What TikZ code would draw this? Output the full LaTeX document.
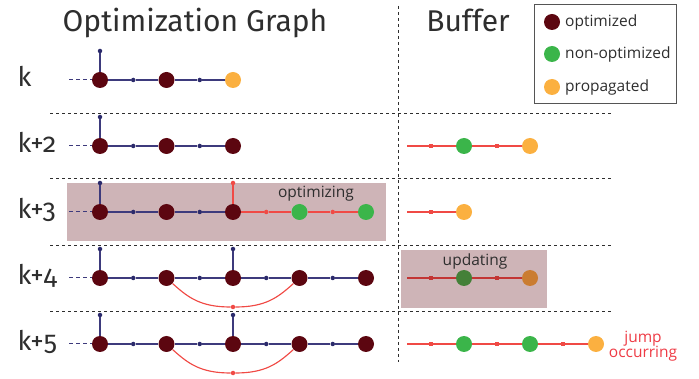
\documentclass[tikz,border=0pt]{standalone}
\usepackage{fontspec}
\setmainfont[Numbers=OldStyle]{Fira Sans}
\newfontfamily\legfont{Open Sans}
\usetikzlibrary{positioning}
\definecolor{optc}{HTML}{5C0610}
\definecolor{nonc}{HTML}{3BB54A}
\definecolor{propc}{HTML}{FBB040}
\definecolor{navy}{HTML}{2B2A6B}
\definecolor{navyl}{HTML}{3D3A7C}
\definecolor{redl}{HTML}{F04A45}
\definecolor{txt}{HTML}{2E2E2E}
\definecolor{legc}{HTML}{555555}
\definecolor{jumpc}{HTML}{EE3B45}

\begin{document}
\begin{tikzpicture}[x=1pt, y=-1pt,
  state/.style={circle, inner sep=0pt, minimum size=16pt},
  opt/.style={state, fill=optc},
  nonopt/.style={state, fill=nonc},
  prop/.style={state, fill=propc},
  fac/.style={circle, inner sep=0pt, minimum size=4.5pt, fill=navy},
  rdot/.style={circle, inner sep=0pt, minimum size=4.5pt, fill=redl},
  rfac/.style={rectangle, inner sep=0pt, minimum size=3.5pt, fill=redl},
  edge/.style={navyl, line width=1.15pt},
  redge/.style={redl, line width=1.15pt},
  lead/.style={edge, line width=1pt, dash pattern=on 4pt off 3pt},
  sep/.style={txt, line width=0.8pt, dash pattern=on 3pt off 3pt},
  shade/.style={fill=optc, fill opacity=0.3},
  rowlbl/.style={font=\fontsize{27}{30}\selectfont, text=txt, anchor=base west},
  head/.style={font=\fontsize{30}{34}\selectfont, text=txt, anchor=base},
  note/.style={font=\legfont\fontsize{15.5}{18}\selectfont, text=txt}]
\useasboundingbox (0,0) rectangle (699,379);

% headers and separators
\node[head] (tgraph) at (195,32) {Optimization Graph};
\node[head] (tbuf) at (468,32) {Buffer};
\draw[sep] (398,6) -- (398,362);
\foreach \y in {113,178,245,311}
  \draw[sep] (50,\y) -- (612,\y);

% legend
\draw[legc, line width=1pt] (534,5) rectangle (676,104);
\node[opt] (l1) at (552,22) {};
\node[nonopt] (l2) at (552,54) {};
\node[prop] (l3) at (552,87) {};
\node[note, right=1.5pt of l1] (l1t) {optimized};
\node[note, right=1.5pt of l2] (l2t) {non-optimized};
\node[note, right=1.5pt of l3] (l3t) {propagated};

% row labels
\node[rowlbl] (rk) at (14,87) {k};
\node[rowlbl] (rk2) at (14,153) {k+2};
\node[rowlbl] (rk3) at (14,219) {k+3};
\node[rowlbl] (rk4) at (14,285) {k+4};
\node[rowlbl] (rk5) at (14,351) {k+5};

% row k
\coordinate (g0l) at (69,80);
\foreach \s [count=\i] in {opt,opt,prop}
  \node[\s] (g0n\i) at ({100+66.5*(\i-1)},80) {};
\foreach \i in {1,2}
  \node[fac] (g0f\i) at ({133.25+66.5*(\i-1)},80) {};
\node[fac] (g0p1) at (100,51) {};
\draw[lead] (g0l) -- (g0n1);
\foreach \i/\j in {1/2,2/3}
  \draw[edge] (g0n\i) -- (g0f\i) -- (g0n\j);
\draw[edge] (g0n1) -- (g0p1);

% row k+2
\coordinate (g2l) at (69,146);
\foreach \s [count=\i] in {opt,opt,opt}
  \node[\s] (g2n\i) at ({100+66.5*(\i-1)},146) {};
\foreach \i in {1,2}
  \node[fac] (g2f\i) at ({133.25+66.5*(\i-1)},146) {};
\node[fac] (g2p1) at (100,117) {};
\draw[lead] (g2l) -- (g2n1);
\foreach \i/\j in {1/2,2/3}
  \draw[edge] (g2n\i) -- (g2f\i) -- (g2n\j);
\draw[edge] (g2n1) -- (g2p1);

% row k+3
\fill[shade] (67,183) rectangle (386,241);
\coordinate (g3l) at (69,212);
\foreach \s [count=\i] in {opt,opt,opt,nonopt,nonopt}
  \node[\s] (g3n\i) at ({100+66.5*(\i-1)},212) {};
\foreach \i in {1,2}
  \node[fac] (g3f\i) at ({133.25+66.5*(\i-1)},212) {};
\foreach \i in {3,4}
  \node[rdot] (g3f\i) at ({133.25+66.5*(\i-1)},212) {};
\node[fac] (g3p1) at (100,183) {};
\node[rdot] (g3p3) at (233,183) {};
\draw[lead] (g3l) -- (g3n1);
\foreach \i/\j in {1/2,2/3}
  \draw[edge] (g3n\i) -- (g3f\i) -- (g3n\j);
\foreach \i/\j in {3/4,4/5}
  \draw[redge] (g3n\i) -- (g3f\i) -- (g3n\j);
\draw[edge] (g3n1) -- (g3p1);
\draw[redge] (g3n3) -- (g3p3);
\node[note] (topt) at (316,194) {optimizing};

% rows k+4 and k+5
\foreach \r/\y in {4/278,5/344} {
  \coordinate (g\r l) at (69,\y);
  \foreach \i in {1,...,5}
    \node[opt] (g\r n\i) at ({100+66.5*(\i-1)},\y) {};
  \foreach \i in {1,...,4}
    \node[fac] (g\r f\i) at ({133.25+66.5*(\i-1)},\y) {};
  \node[fac] (g\r p1) at (100,\y-29) {};
  \node[fac] (g\r p3) at (233,\y-29) {};
  \node[rdot] (g\r d) at (233,\y+29) {};
  \draw[lead] (g\r l) -- (g\r n1);
  \foreach \i/\j in {1/2,2/3,3/4,4/5}
    \draw[edge] (g\r n\i) -- (g\r f\i) -- (g\r n\j);
  \draw[edge] (g\r n1) -- (g\r p1);
  \draw[edge] (g\r n3) -- (g\r p3);
  \draw[redge] (g\r n2) .. controls +(22,20) and +(-32,0) .. (g\r d)
    .. controls +(32,0) and +(-22,20) .. (g\r n4);
}

% buffer k+2
\coordinate (b2l) at (407,146);
\node[rfac] (b2f1) at (431,146) {};
\node[nonopt] (b2n1) at (464,146) {};
\node[rfac] (b2f2) at (497,146) {};
\node[prop] (b2n2) at (530,146) {};
\draw[redge] (b2l) -- (b2f1) -- (b2n1) -- (b2f2) -- (b2n2);

% buffer k+3
\coordinate (b3l) at (407,212);
\node[rfac] (b3f1) at (431,212) {};
\node[prop] (b3n1) at (464,212) {};
\draw[redge] (b3l) -- (b3f1) -- (b3n1);

% buffer k+4
\coordinate (b4l) at (407,278);
\node[rfac] (b4f1) at (431,278) {};
\node[nonopt] (b4n1) at (464,278) {};
\node[rfac] (b4f2) at (497,278) {};
\node[prop] (b4n2) at (530,278) {};
\draw[redge] (b4l) -- (b4f1) -- (b4n1) -- (b4f2) -- (b4n2);
\fill[shade] (401,250) rectangle (547,308);
\node[note] (tupd) at (475,261) {updating};

% buffer k+5
\coordinate (b5l) at (407,344);
\node[rfac] (b5f1) at (431,344) {};
\node[nonopt] (b5n1) at (464,344) {};
\node[rfac] (b5f2) at (497,344) {};
\node[nonopt] (b5n2) at (530,344) {};
\node[rfac] (b5f3) at (563,344) {};
\node[prop] (b5n3) at (596,344) {};
\draw[redge] (b5l) -- (b5f1) -- (b5n1) -- (b5f2) -- (b5n2) -- (b5f3) -- (b5n3);
\node[note, text=jumpc, align=center] (tjump) at (643,346) {jump\\[-3pt]occurring};
\end{tikzpicture}
\end{document}
